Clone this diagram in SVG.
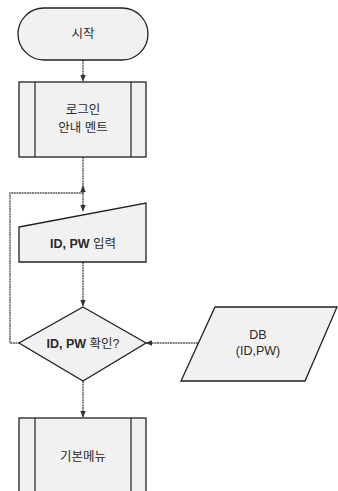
<svg xmlns="http://www.w3.org/2000/svg" width="338" height="491" viewBox="0 0 338 491">
<defs>
<style>
.shape{fill:#f1f1f1;stroke:#222;stroke-width:1.3}
.inner{stroke:#222;stroke-width:1.2;fill:none}
.conn{stroke:#555;stroke-width:1.4;fill:none;stroke-dasharray:2 0.6}
.t{font-family:"Liberation Sans","Noto Sans CJK KR",sans-serif;font-size:12.5px;fill:#2a2a2a;text-anchor:middle}
.b{font-weight:bold}
</style>
<marker id="ah" viewBox="0 0 10 10" refX="9" refY="5" markerWidth="7" markerHeight="7" orient="auto" markerUnits="userSpaceOnUse">
<path d="M0,1 L10,5 L0,9 z" fill="#333"/>
</marker>
</defs>
<rect width="338" height="491" fill="#fff"/>
<g id="connectors">
<line class="conn" x1="83" y1="60" x2="83" y2="81" marker-end="url(#ah)"/>
<line class="conn" x1="83" y1="157" x2="83" y2="193"/>
<polyline class="conn" points="20,343 10,343 10,193 83,193"/>
<line class="conn" x1="83" y1="193" x2="83" y2="186" marker-end="url(#ah)"/>
<line class="conn" x1="83" y1="193" x2="83" y2="211" marker-end="url(#ah)"/>
<line class="conn" x1="83" y1="262" x2="83" y2="306" marker-end="url(#ah)"/>
<line class="conn" x1="198" y1="343" x2="146" y2="343" marker-end="url(#ah)"/>
<line class="conn" x1="83" y1="381" x2="83" y2="417" marker-end="url(#ah)"/>
</g>
<g id="start">
<rect class="shape" x="18" y="8" width="130" height="52" rx="26" ry="26"/>
<text class="t" x="83" y="38">시작</text>
</g>
<g id="login-guide">
<rect class="shape" x="19" y="82" width="127" height="75"/>
<line class="inner" x1="35" y1="82" x2="35" y2="157"/>
<line class="inner" x1="131" y1="82" x2="131" y2="157"/>
<text class="t" x="83" y="114">로그인</text>
<text class="t" x="83" y="132">안내 멘트</text>
</g>
<g id="input">
<polygon class="shape" points="19,227 146,203 146,262 19,262"/>
<text class="t" x="83" y="248"><tspan class="b">ID, PW</tspan> 입력</text>
</g>
<g id="check">
<polygon class="shape" points="83,307 146,343 83,381 19,343"/>
<text class="t" x="83" y="348"><tspan class="b">ID, PW</tspan> 확인?</text>
</g>
<g id="db">
<polygon class="shape" points="215,307 337,307 305,381 181,381"/>
<text class="t" x="258" y="339">DB</text>
<text class="t" x="258" y="355">(ID,PW)</text>
</g>
<g id="main-menu">
<rect class="shape" x="19" y="418" width="127" height="80"/>
<line class="inner" x1="35" y1="418" x2="35" y2="498"/>
<line class="inner" x1="131" y1="418" x2="131" y2="498"/>
<text class="t" x="83" y="461">기본메뉴</text>
</g>
</svg>
